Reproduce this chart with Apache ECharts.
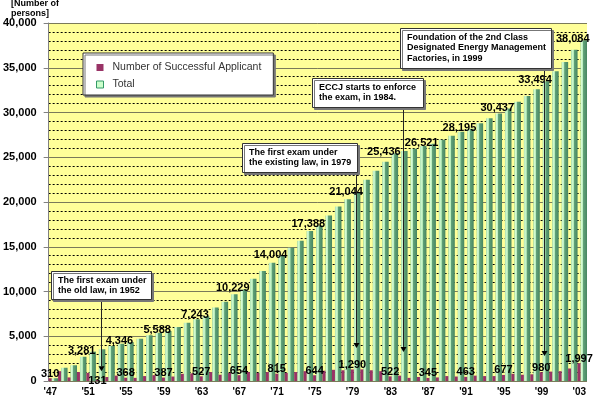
<!DOCTYPE html>
<html>
<head>
<meta charset="utf-8">
<script src="https://cdn.jsdelivr.net/npm/echarts@6.0.0/dist/echarts.min.js"></script>
<style>
  html, body { margin: 0; padding: 0; background: #fff; }
  #chart { width: 600px; height: 397px; }
</style>
</head>
<body>
<div id="chart"></div>
<script>
// years 1947 - 2003
const categories = ["'47", "'48", "'49", "'50", "'51", "'52", "'53", "'54", "'55", "'56",
  "'57", "'58", "'59", "'60", "'61", "'62", "'63", "'64", "'65", "'66",
  "'67", "'68", "'69", "'70", "'71", "'72", "'73", "'74", "'75", "'76",
  "'77", "'78", "'79", "'80", "'81", "'82", "'83", "'84", "'85", "'86",
  "'87", "'88", "'89", "'90", "'91", "'92", "'93", "'94", "'95", "'96",
  "'97", "'98", "'99", "'00", "'01", "'02", "'03"]

const successful = [310, 1100, 400, 1000, 900, 131, 450, 600, 368, 350,
  550, 650, 387, 500, 800, 850, 527, 1000, 700, 900,
  654, 1000, 900, 1000, 815, 900, 1000, 1100, 644, 1150,
  1250, 1200, 1290, 1300, 1200, 1100, 522, 600, 350, 450,
  345, 400, 550, 500, 463, 600, 550, 550, 677, 800,
  700, 750, 980, 1050, 1100, 1400, 1997]

const total = [310, 1490, 1750, 2720, 3281, 3540, 3910, 4170, 4346, 4730,
  5100, 5400, 5588, 6030, 6520, 6890, 7243, 8200, 8850, 9700,
  10229, 11430, 12280, 13210, 14004, 14880, 15680, 16750, 17388, 18500,
  19500, 20300, 21044, 22500, 23500, 24500, 25436, 25700, 25950, 26250,
  26521, 26950, 27400, 27850, 28195, 28800, 29350, 29900, 30437, 31200,
  31850, 32600, 33494, 34600, 35650, 37000, 38084]

// years that carry a value label
const successfulLabelYears = ["'47", "'52", "'55", "'59", "'63", "'67", "'71", "'75",
  "'79", "'83", "'87", "'91", "'95", "'99", "'03"]
const totalLabelYears = ["'51", "'55", "'59", "'63", "'67", "'71", "'75",
  "'79", "'83", "'87", "'91", "'95", "'99", "'03"]

const yTicks = [0, 5000, 10000, 15000, 20000, 25000, 30000, 35000, 40000]

const callouts = [
  {text: 'The first exam under\nthe old law, in 1952', year: "'52", box: [51, 271, 100, 28], tipValue: 1100},
  {text: 'The first exam under\nthe existing law, in 1979', year: "'79", box: [242, 143, 115, 29], tipValue: 3700},
  {text: 'ECCJ starts to enforce\nthe exam, in 1984.', year: "'84", box: [312, 78, 111, 29], tipValue: 3250},
  {text: 'Foundation of the 2nd Class\nDesignated Energy Management\nFactories, in 1999', year: "'99", box: [400, 28, 151, 40], tipValue: 2800}
]

const FONT = '"Liberation Sans", Arial, sans-serif'
const commas = v => echarts.format.addCommas(v)

const chart = echarts.init(document.getElementById('chart'), null, {renderer: 'canvas'})

const labelText = {color: '#000', fontSize: 11, fontWeight: 'bold', fontFamily: FONT}

const option = {
  animation: false,
  textStyle: {fontFamily: FONT},
  title: {
    text: '[Number of\npersons]',
    left: 11, top: -1, padding: 0,
    textStyle: {fontSize: 9, fontWeight: 'bold', lineHeight: 9.5, color: '#000', fontFamily: FONT}
  },
  legend: {
    orient: 'vertical',
    left: 83, top: 53,
    padding: [9, 12, 5, 13],
    itemGap: 6,
    itemWidth: 7, itemHeight: 7,
    backgroundColor: '#fff',
    borderColor: '#333', borderWidth: 1,
    shadowColor: '#777', shadowOffsetX: 2, shadowOffsetY: 2, shadowBlur: 0,
    textStyle: {fontSize: 10.5, color: '#333', fontFamily: FONT, padding: [0, 0, 0, 4]},
    data: [
      {name: 'Number of Successful Applicant', icon: 'rect', itemStyle: {color: '#993366'}},
      {name: 'Total', icon: 'rect', itemStyle: {color: '#ccffcc', borderColor: '#339966', borderWidth: 1}}
    ]
  },
  grid: {
    left: 45, right: 13, top: 23, bottom: 15,
    show: true, backgroundColor: '#ffff99', borderWidth: 0
  },
  xAxis: {
    type: 'category',
    data: categories,
    axisLine: {show: false},
    axisTick: {show: false},
    axisLabel: {
      interval: 3, margin: 6,
      formatter: v => '{t|' + v + '}',
      rich: {t: {padding: [0, 6, 0, 0], color: '#000', fontSize: 10, fontWeight: 'bold', fontFamily: FONT}}
    }
  },
  yAxis: {
    type: 'value',
    min: yTicks[0], max: yTicks[yTicks.length - 1], interval: 5000,
    axisLine: {show: true, lineStyle: {color: '#808080'}},
    axisTick: {show: true, length: 5, lineStyle: {color: '#808080'}},
    axisLabel: {margin: 12, color: '#000', fontSize: 11, fontWeight: 'bold', fontFamily: FONT, formatter: v => commas(v)},
    splitLine: {show: true, lineStyle: {color: '#7a7a5a', width: 1}},
    minorTick: {show: false, splitNumber: 5},
    minorSplitLine: {show: true, lineStyle: {color: '#000', type: [2, 2], width: 1}}
  },
  series: [
    {
      name: 'Number of Successful Applicant',
      type: 'bar',
      barWidth: 3,
      barGap: '0%',
      itemStyle: {color: '#993366'},
      label: Object.assign({show: false, position: 'top', distance: -1, formatter: p => commas(p.value)}, labelText),
      z: 4,
      data: successful.map((v, i) => ({
        value: v,
        label: {show: successfulLabelYears.includes(categories[i]), offset: categories[i] === "'52" ? [0, 6] : [0, 0]}
      }))
    },
    {
      name: 'Total',
      type: 'bar',
      barWidth: 6.5,
      barGap: '0%',
      itemStyle: {
        color: new echarts.graphic.LinearGradient(0, 0, 1, 0, [
          {offset: 0, color: '#8fcf98'},
          {offset: 0.15, color: '#d6fbd6'},
          {offset: 0.4, color: '#b0e8b4'},
          {offset: 0.45, color: '#62a27a'},
          {offset: 1, color: '#468660'}
        ])
      },
      label: Object.assign({show: false, position: 'top', distance: -4.5, offset: [-11, 0], formatter: p => commas(p.value)}, labelText),
      z: 3,
      data: total.map((v, i) => ({
        value: v,
        label: {show: totalLabelYears.includes(categories[i])}
      }))
    }
  ]
}

chart.setOption(option)

// callout boxes with arrows, placed through the axes
const graphics = []
callouts.forEach(c => {
  const [bx, by, bw, bh] = c.box
  const x = Math.round(chart.convertToPixel({xAxisIndex: 0}, c.year)) + 0.5
  const tipY = chart.convertToPixel({yAxisIndex: 0}, c.tipValue)
  graphics.push({
    type: 'line', z: 100,
    shape: {x1: x, y1: by + bh, x2: x, y2: tipY - 5},
    style: {stroke: '#222', lineWidth: 1}
  })
  graphics.push({
    type: 'polygon', z: 100,
    shape: {points: [[x - 3, tipY - 5], [x + 3, tipY - 5], [x, tipY]]},
    style: {fill: '#000'}
  })
  graphics.push({
    type: 'rect', z: 101,
    shape: {x: bx + 0.5, y: by + 0.5, width: bw, height: bh},
    style: {fill: '#fff', stroke: '#333', lineWidth: 1, shadowColor: '#777', shadowOffsetX: 2, shadowOffsetY: 2, shadowBlur: 0}
  })
  graphics.push({
    type: 'text', z: 102,
    x: bx + 7, y: by + 4,
    style: {text: c.text, fill: '#000', fontSize: 9, fontWeight: 'bold', fontFamily: FONT, lineHeight: 10.5}
  })
})
chart.setOption({graphic: graphics})
</script>
</body>
</html>
